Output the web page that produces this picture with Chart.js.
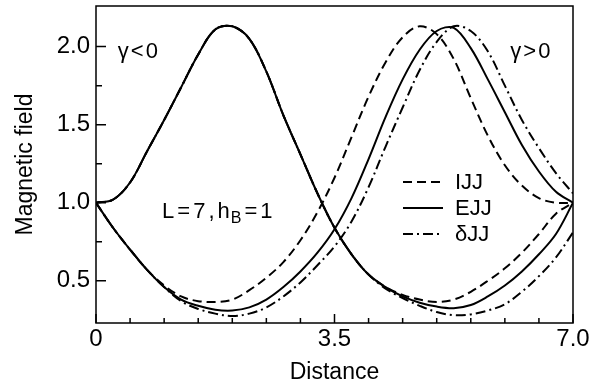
<!DOCTYPE html>
<html>
<head>
<meta charset="utf-8">
<script src="https://cdn.jsdelivr.net/npm/chart.js@4.4.0/dist/chart.umd.min.js"></script>
<style>
  html, body { margin: 0; padding: 0; background: #fff; }
  #wrap { width: 599px; height: 388px; }
</style>
</head>
<body>
<div id="wrap"><canvas id="fieldChart"></canvas></div>
<script>
// distance along the junction
const distance = [0, 0.25, 0.5, 0.75, 1, 1.25, 1.5, 1.75, 2, 2.25, 2.5, 2.75, 3, 3.25, 3.5,
                  3.75, 4, 4.25, 4.5, 4.75, 5, 5.25, 5.5, 5.75, 6, 6.25, 6.5, 6.75, 7];

// gamma < 0 (peak on the left)
const ijjNeg = [1.00, 1.02, 1.13, 1.33, 1.53, 1.74, 1.95, 2.11, 2.13, 2.05, 1.84, 1.56, 1.31, 1.06, 0.84,
                0.67, 0.54, 0.46, 0.41, 0.38, 0.365, 0.38, 0.43, 0.50, 0.58, 0.68, 0.80, 0.93, 1.00];
const ejjNeg = [1.00, 1.02, 1.13, 1.33, 1.53, 1.74, 1.95, 2.11, 2.13, 2.05, 1.84, 1.56, 1.31, 1.06, 0.84,
                0.67, 0.54, 0.46, 0.40, 0.36, 0.335, 0.325, 0.345, 0.40, 0.47, 0.56, 0.67, 0.80, 1.00];
const djjNeg = [1.00, 1.02, 1.13, 1.33, 1.53, 1.74, 1.95, 2.11, 2.13, 2.05, 1.84, 1.56, 1.31, 1.06, 0.84,
                0.67, 0.54, 0.45, 0.39, 0.34, 0.30, 0.28, 0.285, 0.31, 0.35, 0.43, 0.53, 0.65, 0.81];

// gamma > 0 (peak on the right)
const ijjPos = [1.00, 0.84, 0.70, 0.57, 0.47, 0.40, 0.37, 0.365, 0.38, 0.44, 0.52, 0.62, 0.76, 0.94, 1.16,
                1.42, 1.68, 1.90, 2.06, 2.13, 2.08, 1.92, 1.67, 1.43, 1.24, 1.11, 1.03, 1.00, 1.00];
const ejjPos = [1.00, 0.84, 0.70, 0.57, 0.46, 0.38, 0.34, 0.315, 0.31, 0.33, 0.38, 0.46, 0.56, 0.68, 0.83,
                1.03, 1.28, 1.55, 1.79, 1.98, 2.10, 2.12, 1.99, 1.79, 1.58, 1.37, 1.20, 1.07, 1.00];
const djjPos = [1.00, 0.84, 0.70, 0.57, 0.46, 0.37, 0.32, 0.29, 0.275, 0.29, 0.33, 0.40, 0.49, 0.60, 0.72,
                0.88, 1.10, 1.36, 1.61, 1.85, 2.03, 2.13, 2.10, 1.97, 1.75, 1.53, 1.35, 1.19, 1.06];

const yTickValues = [0.5, 1.0, 1.5, 2.0];
const yMinorTicks = [0.75, 1.25, 1.75];
const xTickValues = [0, 3.5, 7.0];
const xMinorTicks = [0.5, 1, 1.5, 2, 2.5, 3, 4, 4.5, 5, 5.5, 6, 6.5];
const legendLabels = ['IJJ', 'EJJ', '\u03B4JJ'];

const FONT = '"Liberation Sans", Arial, sans-serif';
const DASHED = [9, 5];
const DASHDOT = [10, 4, 2, 4];

function line(data, dash, name) {
    return {
        label: name,
        data: distance.map((d, i) => ({ x: d, y: data[i] })),
        borderColor: '#000',
        borderWidth: 2,
        borderDash: dash,
        pointRadius: 0,
        fill: false,
        tension: 0.35
    };
}

// frame, inward ticks, text labels and the legend
const decorations = {
    id: 'decorations',
    afterDatasetsDraw(chart) {
        const { ctx, chartArea: a, scales: { x, y } } = chart;
        ctx.save();
        ctx.strokeStyle = '#000';
        ctx.lineWidth = 1.5;
        ctx.setLineDash([]);
        ctx.strokeRect(a.left, a.top, a.right - a.left, a.bottom - a.top);

        ctx.beginPath();
        yTickValues.forEach(v => { const p = y.getPixelForValue(v); ctx.moveTo(a.left, p); ctx.lineTo(a.left + 10, p); });
        yMinorTicks.forEach(v => { const p = y.getPixelForValue(v); ctx.moveTo(a.left, p); ctx.lineTo(a.left + 6, p); });
        xTickValues.forEach(v => { const p = x.getPixelForValue(v); ctx.moveTo(p, a.bottom); ctx.lineTo(p, a.bottom - 9); });
        xMinorTicks.forEach(v => { const p = x.getPixelForValue(v); ctx.moveTo(p, a.bottom); ctx.lineTo(p, a.bottom - 5); });
        ctx.stroke();

        ctx.fillStyle = '#000';
        ctx.textBaseline = 'alphabetic';
        ctx.textAlign = 'left';
        ctx.font = '22px ' + FONT;
        ctx.letterSpacing = '2px';
        ctx.fillText('\u03B3<0', x.getPixelForValue(0.32), y.getPixelForValue(1.93));
        ctx.fillText('\u03B3>0', x.getPixelForValue(6.08), y.getPixelForValue(1.93));

        // L=7, h_B=1
        let tx = x.getPixelForValue(0.97);
        const ty = y.getPixelForValue(0.9);
        ctx.letterSpacing = '3px';
        ctx.fillText('L=7,h', tx, ty);
        tx += ctx.measureText('L=7,h').width - 2;
        ctx.font = '16px ' + FONT;
        ctx.letterSpacing = '0px';
        ctx.fillText('B', tx, ty + 5);
        tx += ctx.measureText('B').width + 3;
        ctx.font = '22px ' + FONT;
        ctx.letterSpacing = '3px';
        ctx.fillText('=1', tx, ty);
        ctx.letterSpacing = '0px';

        // legend
        const ds = chart.data.datasets;
        ctx.lineWidth = 2;
        ctx.textBaseline = 'middle';
        legendLabels.forEach((lab, i) => {
            const ly = a.top + 176 + i * 26;
            ctx.setLineDash(ds[i].borderDash);
            ctx.beginPath();
            ctx.moveTo(a.left + 307, ly);
            ctx.lineTo(a.left + 347, ly);
            ctx.stroke();
            ctx.setLineDash([]);
            ctx.font = '22px ' + FONT;
            ctx.fillText(lab, a.left + 359, ly + 1);
        });
        ctx.restore();
    }
};

const ctx = document.getElementById('fieldChart').getContext('2d');
const chart = new Chart(ctx, {
    type: 'line',
    data: {
        datasets: [
            line(ijjNeg, DASHED, 'IJJ'),
            line(ejjNeg, [], 'EJJ'),
            line(djjNeg, DASHDOT, '\u03B4JJ'),
            line(ijjPos, DASHED, 'IJJ'),
            line(ejjPos, [], 'EJJ'),
            line(djjPos, DASHDOT, '\u03B4JJ')
        ]
    },
    options: {
        responsive: true,
        maintainAspectRatio: false,
        animation: false,
        layout: { padding: { left: 0, right: 26, top: 6, bottom: 0 } },
        scales: {
            x: {
                type: 'linear',
                min: 0,
                max: 7,
                afterBuildTicks: s => { s.ticks = xTickValues.map(v => ({ value: v })); },
                afterFit: s => { s.height = 65; s.paddingLeft = 0; s.paddingRight = 0; },
                grid: { display: false, drawTicks: false },
                border: { display: false },
                ticks: {
                    color: '#000',
                    padding: 2,
                    maxRotation: 0,
                    font: { family: FONT, size: 24 },
                    callback: v => (v === 0 ? '0' : v.toFixed(1))
                },
                title: {
                    display: true,
                    text: 'Distance',
                    color: '#000',
                    font: { family: FONT, size: 23 },
                    padding: { top: 0, bottom: 2 }
                }
            },
            y: {
                min: 0.23,
                max: 2.26,
                afterBuildTicks: s => { s.ticks = yTickValues.map(v => ({ value: v })); },
                afterFit: s => { s.width = 96; s.paddingTop = 0; s.paddingBottom = 0; },
                grid: { display: false, drawTicks: false },
                border: { display: false },
                ticks: {
                    color: '#000',
                    padding: 6,
                    font: { family: FONT, size: 24 },
                    callback: v => v.toFixed(1)
                },
                title: {
                    display: true,
                    text: 'Magnetic field',
                    color: '#000',
                    font: { family: FONT, size: 23 },
                    padding: { top: 12, bottom: 0 }
                }
            }
        },
        plugins: {
            legend: { display: false },
            tooltip: { enabled: false }
        }
    },
    plugins: [decorations]
});
</script>
</body>
</html>
